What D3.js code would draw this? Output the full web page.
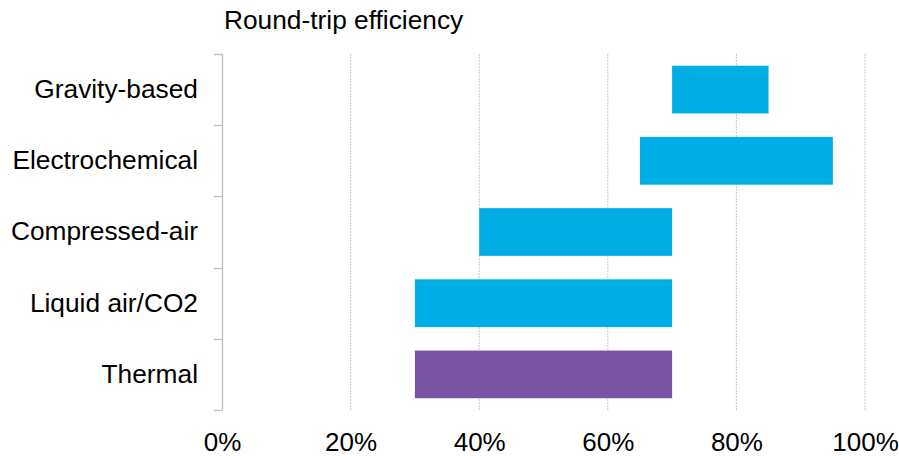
<!DOCTYPE html>
<html><head><meta charset="utf-8">
<script src="https://cdn.jsdelivr.net/npm/d3@7"></script>
<style>body{margin:0;background:#fff;}svg{display:block;font-family:"Liberation Sans",Arial,sans-serif;}</style>
</head><body>
<script>
const categories = ["Gravity-based","Electrochemical","Compressed-air","Liquid air/CO2","Thermal"];
const lowValues = [0.70,0.65,0.40,0.30,0.30];
const highValues = [0.85,0.95,0.70,0.70,0.70];
const barColors = ["#00ADE4","#00ADE4","#00ADE4","#00ADE4","#7853A3"];
const xTicks = [0,0.2,0.4,0.6,0.8,1.0];
const title = "Round-trip efficiency";

const W=899,H=456;
const svg=d3.select("body").append("svg").attr("width",W).attr("height",H);
const x=d3.scaleLinear().domain([0,1]).range([222,865]);
const y=d3.scaleBand().domain(categories).range([54,410]).paddingInner(0.33).paddingOuter(0.165);

// gridlines
svg.append("g").selectAll("line").data(xTicks.slice(1)).join("line")
  .attr("x1",d=>x(d)).attr("x2",d=>x(d)).attr("y1",54).attr("y2",410)
  .attr("stroke","#c8c8c8").attr("stroke-width",1).attr("stroke-dasharray","2,1");

// bars
svg.append("g").selectAll("rect").data(categories).join("rect")
  .attr("x",(d,i)=>x(lowValues[i])).attr("width",(d,i)=>x(highValues[i])-x(lowValues[i]))
  .attr("y",d=>y(d)).attr("height",y.bandwidth()).attr("fill",(d,i)=>barColors[i]);

// y axis
const bandEdges = categories.map(c=>y(c)-y.step()*y.paddingInner()/2).concat([410]);
const ya=svg.append("g");
ya.append("line").attr("x1",222.5).attr("x2",222.5).attr("y1",54).attr("y2",410).attr("stroke","#bfbfbf").attr("stroke-width",1.3);
ya.selectAll("line.t").data(bandEdges).join("line").attr("class","t")
  .attr("x1",214).attr("x2",222.5).attr("y1",d=>Math.round(d)+0.5).attr("y2",d=>Math.round(d)+0.5)
  .attr("stroke","#bfbfbf").attr("stroke-width",1.3);
ya.selectAll("text").data(categories).join("text")
  .attr("x",198).attr("y",d=>y(d)+y.bandwidth()/2).attr("dy","0.32em")
  .attr("text-anchor","end").attr("font-size",26.3).attr("fill","#000").text(d=>d);

// x axis labels
const xa=svg.append("g").attr("transform","translate(0,410)")
  .call(d3.axisBottom(x).tickValues(xTicks).tickFormat(d3.format(".0%")).tickSize(0).tickPadding(23));
xa.select(".domain").remove();
xa.selectAll("text").attr("font-size",26).attr("fill","#000").attr("font-family","'Liberation Sans',Arial,sans-serif");

svg.append("text").attr("x",224).attr("y",29).attr("font-size",26.3).attr("fill","#000").text(title);
</script>
</body></html>
